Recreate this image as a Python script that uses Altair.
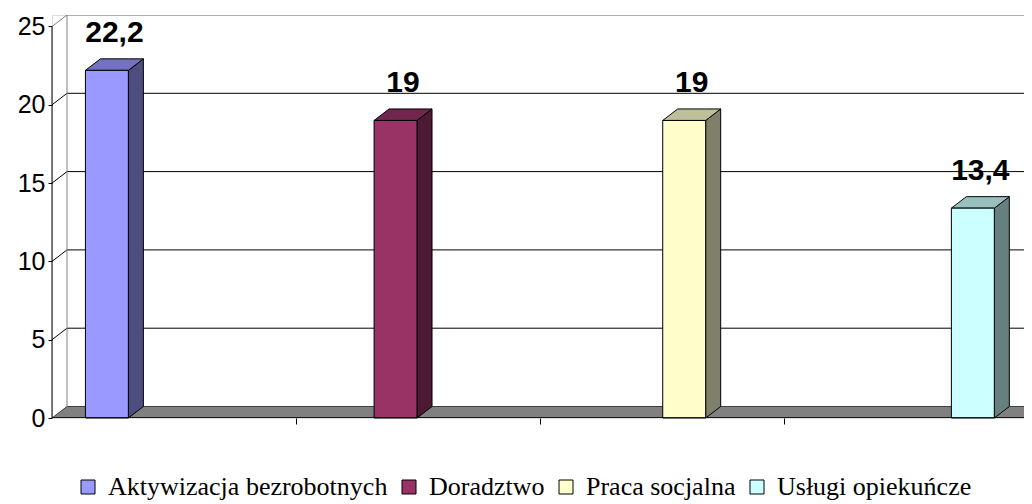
import altair as alt
import pandas as pd

# ---- data ----
categories = ["Aktywizacja bezrobotnych", "Doradztwo", "Praca socjalna", "Usługi opiekuńcze"]
values = [22.2, 19, 19, 13.4]
front_colors = ["#9999FF", "#993366", "#FFFFCC", "#CCFFFF"]
top_colors = ["#7373BF", "#73264D", "#BFBF99", "#99BFBF"]
side_colors = ["#4D4D80", "#4D1A33", "#80806A", "#668080"]
y_ticks = [0, 5, 10, 15, 20, 25]
x_ticks = [1, 2, 3]

# ---- layout constants (3D look) ----
PLOT_W, PLOT_H = 972, 403
PX_PER_X = 244.0
XMAX = PLOT_W / PX_PER_X
DEPTH_PX_Y = 11.5
YMAX = 25 / (1 - DEPTH_PX_Y / PLOT_H)
DX = 15 / PX_PER_X
DY = DEPTH_PX_Y * YMAX / PLOT_H
BAR_START, BAR_STEP, HALF_W = 0.225, 1.183, 0.088
AXIS_END = 4

# ---- tables built from the arrays ----
front_rows, side_rows, top_rows, label_rows = [], [], [], []
for i, (c, v) in enumerate(zip(categories, values)):
    cx = BAR_START + BAR_STEP * i
    xl, xr = cx - HALF_W, cx + HALF_W
    front_rows.append({"cat": c, "xl": xl, "xr": xr, "v": v})
    side_rows += [
        {"cat": c, "x": xr, "y": 0, "y2": v, "fill": side_colors[i]},
        {"cat": c, "x": xr + DX, "y": DY, "y2": v + DY, "fill": side_colors[i]},
    ]
    top_rows += [
        {"cat": c, "x": xl, "y": v, "y2": v, "fill": top_colors[i]},
        {"cat": c, "x": xl + DX, "y": v, "y2": v + DY, "fill": top_colors[i]},
        {"cat": c, "x": xr, "y": v, "y2": v + DY, "fill": top_colors[i]},
        {"cat": c, "x": xr + DX, "y": v + DY, "y2": v + DY, "fill": top_colors[i]},
    ]
    label_rows.append({"x": cx + DX / 2, "y": v + DY,
                       "txt": (f"{v:.1f}".rstrip("0").rstrip(".")).replace(".", ",")})

front_df = pd.DataFrame(front_rows)
side_df = pd.DataFrame(side_rows)
top_df = pd.DataFrame(top_rows)
label_df = pd.DataFrame(label_rows)

floor_df = pd.DataFrame([
    {"x": 0, "y": 0, "y2": 0},
    {"x": DX, "y": 0, "y2": DY},
    {"x": AXIS_END, "y": 0, "y2": DY},
    {"x": AXIS_END + DX, "y": DY, "y2": DY},
])
grid_df = pd.DataFrame([{"y": t + DY, "x": DX, "x2": XMAX,
                         "col": "#808080" if t == 25 else "#000000"} for t in y_ticks[1:]])
slant_df = pd.DataFrame([{"x": 0, "x2": DX, "y": t, "y2": t + DY,
                          "col": "#808080" if t == 25 else "#000000"} for t in y_ticks[1:]])
wall_edge_df = pd.DataFrame([{"x": DX, "y": DY, "y2": 25 + DY}])
yaxis_df = pd.DataFrame([{"x": 0, "y": 0, "y2": 25}])
xaxis_df = pd.DataFrame([{"x": 0, "x2": AXIS_END, "y": 0}])

xs = alt.Scale(domain=[0, XMAX], nice=False, zero=False)
ys = alt.Scale(domain=[0, YMAX], nice=False, zero=False)
X = lambda f: alt.X(f, type="quantitative", scale=xs,
                    axis=alt.Axis(values=x_ticks, labels=False, domain=False, grid=False,
                                  ticks=True, tickColor="black", tickSize=6, title=None))
Y = lambda f: alt.Y(f, type="quantitative", scale=ys,
                    axis=alt.Axis(values=y_ticks, domain=False, grid=False, tickColor="black",
                                  tickSize=4, labelFont="Liberation Sans", labelFontSize=25,
                                  labelColor="black", labelPadding=3, title=None))

floor = alt.Chart(floor_df).mark_area(color="#808080", stroke="#404040", strokeWidth=1,
                                      clip=True).encode(x=X("x"), y=Y("y"), y2="y2")
grid = alt.Chart(grid_df).mark_rule(strokeWidth=1, clip=True).encode(
    x=X("x"), x2="x2", y=Y("y"), color=alt.Color("col:N", scale=None))
slant = alt.Chart(slant_df).mark_rule(strokeWidth=1).encode(
    x=X("x"), x2="x2", y=Y("y"), y2="y2", color=alt.Color("col:N", scale=None))
wall_edge = alt.Chart(wall_edge_df).mark_rule(color="#808080", strokeWidth=1).encode(
    x=X("x"), y=Y("y"), y2="y2")
yaxis_line = alt.Chart(yaxis_df).mark_rule(color="black", strokeWidth=1).encode(
    x=X("x"), y=Y("y"), y2="y2")
xaxis_line = alt.Chart(xaxis_df).mark_rule(color="black", strokeWidth=1.5, clip=True).encode(
    x=X("x"), x2="x2", y=Y("y"))

side = alt.Chart(side_df).mark_area(stroke="black", strokeWidth=1).encode(
    x=X("x"), y=Y("y"), y2="y2", detail="cat:N", fill=alt.Fill("fill:N", scale=None))
top = alt.Chart(top_df).mark_area(stroke="black", strokeWidth=1).encode(
    x=X("x"), y=Y("y"), y2="y2", detail="cat:N", fill=alt.Fill("fill:N", scale=None))
front = alt.Chart(front_df).mark_bar(stroke="black", strokeWidth=1).encode(
    x=X("xl"), x2="xr", y=Y("v"), y2=alt.datum(0),
    color=alt.Color("cat:N", sort=categories,
                    scale=alt.Scale(domain=categories, range=front_colors),
                    legend=alt.Legend(title=None, orient="none", direction="horizontal",
                                      legendX=23, legendY=459, symbolType="square",
                                      symbolSize=196, symbolStrokeColor="black",
                                      symbolStrokeWidth=1, labelFont="Liberation Serif",
                                      labelFontSize=26, labelColor="black", labelOffset=7,
                                      columnPadding=8, labelLimit=500)))
labels = alt.Chart(label_df).mark_text(font="Liberation Sans", fontSize=30, fontWeight="bold",
                                       color="black", baseline="alphabetic", dy=-17).encode(
    x=X("x"), y=Y("y"), text="txt:N")

chart = alt.layer(floor, grid, slant, wall_edge, yaxis_line, side, top, front,
                  xaxis_line, labels).properties(
    width=PLOT_W, height=PLOT_H,
    autosize=alt.AutoSizeParams(type="none"),
    padding={"left": 44, "top": 7, "right": 0, "bottom": 86},
).configure_view(stroke=None).configure(background="white")

chart.save("out.html", embed_options={"renderer": "svg", "actions": False})
